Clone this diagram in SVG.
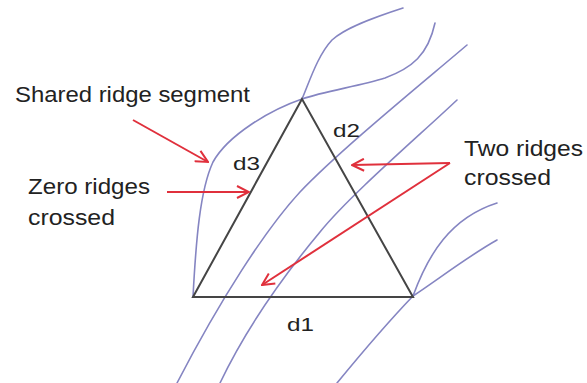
<svg xmlns="http://www.w3.org/2000/svg" width="587" height="383" viewBox="0 0 587 383">
<style>
.ridge{fill:none;stroke:#8585c2;stroke-width:1.6;stroke-linecap:round}
.tri{fill:none;stroke:#454545;stroke-width:2;stroke-linejoin:miter}
.arr{fill:none;stroke:#e0303c;stroke-width:2;marker-end:url(#ah)}
.lbl{font-family:"Liberation Sans",Arial,sans-serif;font-size:22px;fill:#222}
.dl{font-family:"Liberation Sans",Arial,sans-serif;font-size:18px;fill:#222}
</style>
<defs>
<marker id="ah" viewBox="0 0 14 14" refX="13" refY="7" markerWidth="14" markerHeight="14" markerUnits="userSpaceOnUse" orient="auto">
<path d="M1,1 L13,7 L1,13" fill="none" stroke="#e0303c" stroke-width="2"/>
</marker>
</defs>
<rect width="587" height="383" fill="#fff"/>
<g id="ridges">
<path class="ridge" d="M403,8 C372,18 345,28 332,40 C318,55 310,80 302,99"/>
<path class="ridge" d="M435,23 C428,55 412,68 385,78 C360,86 325,91 302,99 C270,110 228,135 213,162 C200,190 196,240 193,297"/>
<path class="ridge" d="M467,45 C420,85 340,150 300,192 C265,230 220,300 177,383"/>
<path class="ridge" d="M457,100 C420,135 350,195 320,232 C295,262 250,320 220,383"/>
<path class="ridge" d="M413,296 C428,255 450,218 497,203"/>
<path class="ridge" d="M413,296 C440,278 470,255 497,240"/>
<path class="ridge" d="M413,296 C390,320 360,355 337,383"/>
</g>
<g id="triangle">
<path class="tri" d="M302,99 L193,297 L413,297 Z"/>
</g>
<g id="connectors">
<path class="arr" d="M133,120 L208,162"/>
<path class="arr" d="M167,192 L249,192"/>
<path class="arr" d="M450,163 L352,165"/>
<path class="arr" d="M450,163 L262,285"/>
</g>
<g id="label-shared"><text class="lbl" x="15" y="102" textLength="235" lengthAdjust="spacingAndGlyphs">Shared ridge segment</text></g>
<g id="label-zero">
<text class="lbl" x="28" y="194" textLength="122" lengthAdjust="spacingAndGlyphs">Zero ridges</text>
<text class="lbl" x="28" y="225" textLength="87" lengthAdjust="spacingAndGlyphs">crossed</text>
</g>
<g id="label-two">
<text class="lbl" x="464" y="156" textLength="119" lengthAdjust="spacingAndGlyphs">Two ridges</text>
<text class="lbl" x="464" y="185" textLength="87" lengthAdjust="spacingAndGlyphs">crossed</text>
</g>
<g id="d1"><text class="dl" x="287" y="331" textLength="27" lengthAdjust="spacingAndGlyphs">d1</text></g>
<g id="d2"><text class="dl" x="333" y="137" textLength="27" lengthAdjust="spacingAndGlyphs">d2</text></g>
<g id="d3"><text class="dl" x="233" y="170" textLength="27" lengthAdjust="spacingAndGlyphs">d3</text></g>
</svg>
